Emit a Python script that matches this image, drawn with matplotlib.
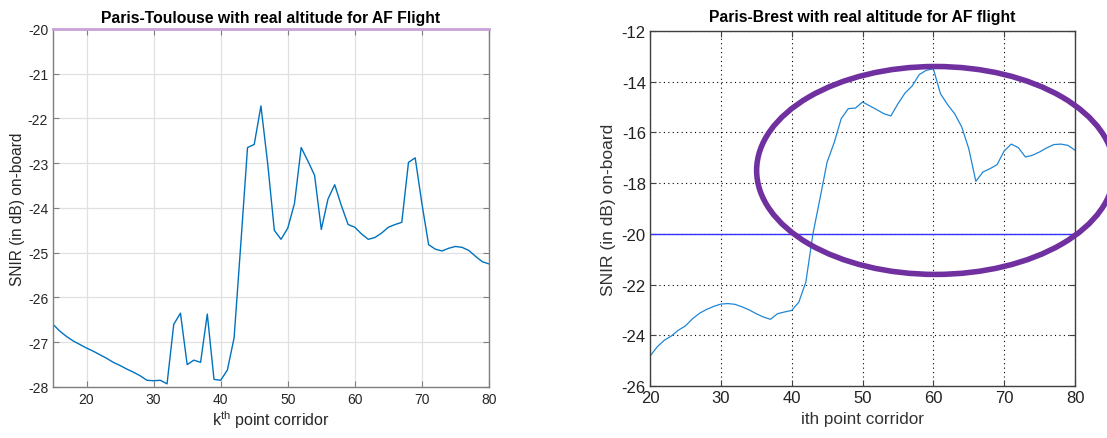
import matplotlib
matplotlib.use('Agg')
import matplotlib.pyplot as plt
from matplotlib.patches import Ellipse

plt.rcParams['font.family'] = ['Liberation Sans', 'DejaVu Sans']
plt.rcParams['mathtext.fontset'] = 'custom'
plt.rcParams['mathtext.rm'] = 'Liberation Sans'
plt.rcParams['axes.unicode_minus'] = False

# Paris-Toulouse (left)
tls_k = list(range(15, 81))
tls_snir = [-26.60, -26.75, -26.87, -26.97, -27.05, -27.13, -27.20, -27.28, -27.36, -27.45,
            -27.52, -27.60, -27.67, -27.75, -27.85, -27.86, -27.85, -27.93, -26.60, -26.35,
            -27.50, -27.40, -27.45, -26.37, -27.83, -27.85, -27.62, -26.90, -24.80, -22.65,
            -22.58, -21.72, -23.00, -24.50, -24.70, -24.45, -23.90, -22.65, -22.95, -23.27,
            -24.48, -23.80, -23.48, -23.95, -24.37, -24.43, -24.58, -24.70, -24.66, -24.56,
            -24.43, -24.37, -24.32, -22.98, -22.88, -23.90, -24.82, -24.92, -24.96, -24.90,
            -24.86, -24.88, -24.95, -25.08, -25.20, -25.25]
tls_threshold = -20

# Paris-Brest (right)
brs_i = list(range(20, 81))
brs_snir = [-24.82, -24.46, -24.20, -24.03, -23.80, -23.63, -23.35, -23.13, -22.98, -22.86,
            -22.77, -22.75, -22.78, -22.88, -23.00, -23.15, -23.28, -23.37, -23.15, -23.08,
            -23.02, -22.70, -21.90, -20.00, -18.60, -17.17, -16.40, -15.45, -15.06, -15.04,
            -14.80, -14.95, -15.10, -15.26, -15.35, -14.87, -14.45, -14.17, -13.72, -13.55,
            -13.49, -14.47, -14.90, -15.26, -15.78, -16.64, -17.93, -17.56, -17.43, -17.27,
            -16.73, -16.46, -16.60, -16.97, -16.90, -16.77, -16.61, -16.48, -16.46, -16.51,
            -16.70]
brs_threshold = -20

fig = plt.figure(figsize=(11.07, 4.39), dpi=100)

# left panel, newer matlab look
ax1 = fig.add_axes([0.0479, 0.1162, 0.3938, 0.8155])
ax1.plot(tls_k, [tls_threshold] * len(tls_k), color='#C9A3DA', lw=2.0, clip_on=False, zorder=3)
ax1.plot(tls_k, tls_snir, color='#0072BD', lw=1.0)
ax1.set_xlim(15, 80)
ax1.set_ylim(-28, -20)
ax1.set_xticks(range(20, 81, 10))
ax1.set_yticks(range(-28, -19))
ax1.grid(True, color='#E0E0E0', lw=0.9)
ax1.set_axisbelow(True)
for s in ax1.spines.values():
    s.set_color('#7F7F7F')
    s.set_linewidth(1.0)
ax1.tick_params(direction='in', length=4, colors='#7F7F7F', labelcolor='#262626',
                labelsize=10, top=True, right=True)
ax1.set_title('Paris-Toulouse with real altitude for AF Flight', fontsize=11.3,
              fontweight='bold', pad=5)
ax1.set_xlabel('k$^{\\mathrm{th}}$ point corridor', fontsize=11.5, color='#262626', labelpad=2)
ax1.set_ylabel('SNIR (in dB) on-board', fontsize=11.2, color='#262626', labelpad=2)

# right panel, old matlab look
ax2 = fig.add_axes([0.5872, 0.1185, 0.3839, 0.8086])
ax2.plot(brs_i, [brs_threshold] * len(brs_i), color='#3333FF', lw=1.0)
ax2.plot(brs_i, brs_snir, color='#1F86D6', lw=0.9)
ax2.set_xlim(20, 80)
ax2.set_ylim(-26, -12)
ax2.set_xticks(range(20, 81, 10))
ax2.set_yticks(range(-26, -11, 2))
ax2.grid(True, color='black', lw=0.8, linestyle=(0, (1, 3)))
for s in ax2.spines.values():
    s.set_color('#404040')
    s.set_linewidth(1.0)
ax2.tick_params(direction='in', length=4, colors='#404040', labelcolor='#222222',
                labelsize=12, top=True, right=True, pad=3)
ax2.set_title('Paris-Brest with real altitude for AF flight', fontsize=11.3,
              fontweight='bold', pad=7)
ax2.set_xlabel('ith point corridor', fontsize=12.3, color='#333333', labelpad=4)
ax2.set_ylabel('SNIR (in dB) on-board', fontsize=12.5, color='#333333', labelpad=4)

ell = Ellipse((60.3, -17.5), 50.5, 8.2, fill=False, edgecolor='#7030A0', lw=4.0,
              clip_on=False, zorder=5)
ax2.add_patch(ell)

fig.savefig('out.png', dpi=100)
